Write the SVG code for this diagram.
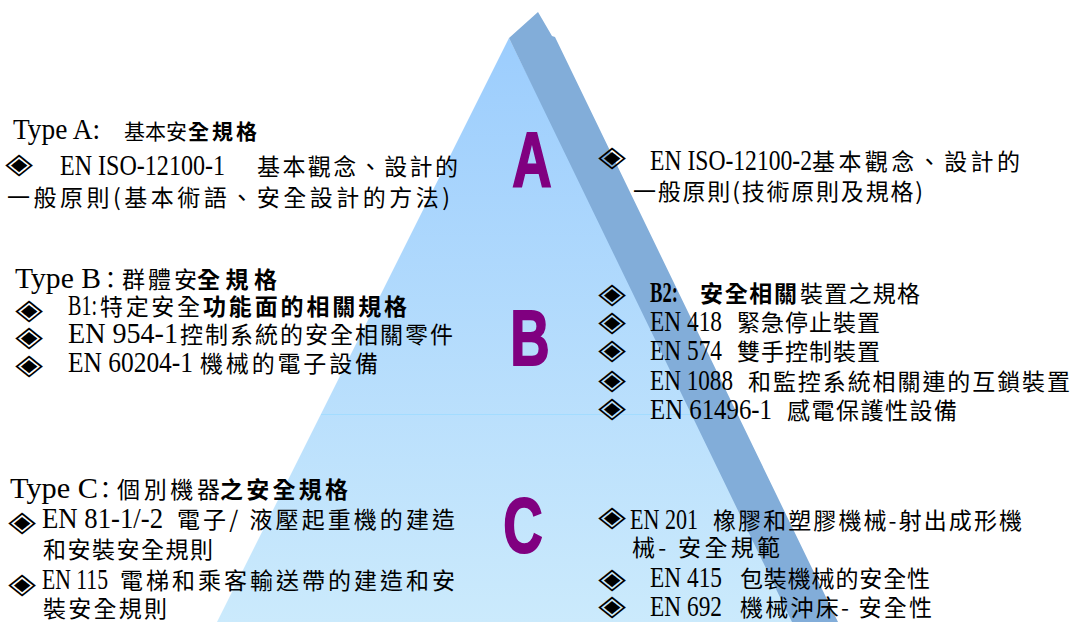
<svg xmlns="http://www.w3.org/2000/svg" width="1072" height="622" viewBox="0 0 1072 622">
<defs>
<linearGradient id="gFace" x1="0" y1="38" x2="0" y2="622" gradientUnits="userSpaceOnUse">
<stop offset="0" stop-color="#9ccdfd"/>
<stop offset="1" stop-color="#cbeafc"/>
</linearGradient>
<style>
.lat{font-family:"Liberation Serif","Noto Sans CJK TC",serif;font-size:29px;fill:#000}
.cjk{font-family:"Noto Sans CJK TC","Noto Sans CJK SC",sans-serif;font-size:23px;fill:#000}
.t{font-size:21px}
.b{font-weight:bold}
.bul{font-family:"Noto Sans CJK KR","Noto Sans CJK TC","DejaVu Sans",sans-serif;font-size:36px;text-anchor:middle;dominant-baseline:central;fill:#000}
.big{font-family:"Liberation Sans",sans-serif;font-weight:bold;font-size:78px;fill:#800080;stroke:#800080;stroke-width:2;text-anchor:middle}
</style>
</defs>
<rect width="1072" height="622" fill="#fff"/>
<g id="pyramid">
<polygon points="509,38 217,622 800,622" fill="url(#gFace)"/>
<line x1="321" y1="414.5" x2="700" y2="414.5" stroke="#a3dcff" stroke-width="1"/>
<polygon points="509,38 538,12 552,36 555,37 838,622 792,622" fill="#82add9"/>
</g>
<g id="letters">
<text class="big" transform="translate(532,187) scale(0.7,1)">A</text>
<text class="big" transform="translate(530,365) scale(0.7,1)">B</text>
<text class="big" transform="translate(523,552) scale(0.7,1)">C</text>
</g>
<g id="typeA-left">
<text class="lat" x="13" y="139" textLength="87" lengthAdjust="spacingAndGlyphs">Type A:</text>
<text class="cjk t" x="124" y="139" textLength="63">基本安</text>
<text class="cjk t b" x="188" y="139" textLength="69">全規格</text>
<text class="bul" transform="translate(19,160) scale(1,0.8)">◈</text>
<text class="lat" x="60" y="175" textLength="165" lengthAdjust="spacingAndGlyphs">EN ISO-12100-1</text>
<text class="cjk" x="257" y="175" textLength="201">基本觀念、設計的</text>
<text class="cjk" x="7" y="206" textLength="443">一般原則(基本術語、安全設計的方法)</text>
</g>
<g id="typeA-right">
<text class="bul" transform="translate(612,153) scale(1,0.8)">◈</text>
<text class="lat" x="650" y="170" textLength="162" lengthAdjust="spacingAndGlyphs">EN ISO-12100-2</text>
<text class="cjk" x="812" y="170" textLength="208">基本觀念、設計的</text>
<text class="cjk" x="633" y="200" textLength="290">一般原則(技術原則及規格)</text>
</g>
<g id="typeB-left">
<text class="lat" x="15" y="288" textLength="86" lengthAdjust="spacingAndGlyphs">Type B</text>
<text class="cjk" x="99" y="288">：</text>
<text class="cjk" x="122" y="288" textLength="75">群體安</text>
<text class="cjk b" x="197" y="288" textLength="80">全規格</text>
<text class="bul" transform="translate(29,306) scale(1,0.8)">◈</text>
<text class="lat" x="68" y="315" textLength="29" lengthAdjust="spacingAndGlyphs">B1:</text>
<text class="cjk" x="100" y="315" textLength="100">特定安全</text>
<text class="cjk b" x="203" y="315" textLength="204">功能面的相關規格</text>
<text class="bul" transform="translate(29,333) scale(1,0.8)">◈</text>
<text class="lat" x="68" y="343" textLength="110" lengthAdjust="spacingAndGlyphs">EN 954-1</text>
<text class="cjk" x="180" y="343" textLength="273">控制系統的安全相關零件</text>
<text class="bul" transform="translate(29,361) scale(1,0.8)">◈</text>
<text class="lat" x="68" y="372" textLength="125" lengthAdjust="spacingAndGlyphs">EN 60204-1</text>
<text class="cjk" x="200" y="372" textLength="178">機械的電子設備</text>
</g>
<g id="typeB-right">
<text class="bul" transform="translate(612,290) scale(1,0.8)">◈</text>
<text class="lat b" x="650" y="302" textLength="28" lengthAdjust="spacingAndGlyphs">B2:</text>
<text class="cjk b" x="700" y="302" textLength="97">安全相關</text>
<text class="cjk" x="800" y="302" textLength="120">裝置之規格</text>
<text class="bul" transform="translate(612,318) scale(1,0.8)">◈</text>
<text class="lat" x="650" y="331" textLength="72" lengthAdjust="spacingAndGlyphs">EN 418</text>
<text class="cjk" x="737" y="331" textLength="143">緊急停止裝置</text>
<text class="bul" transform="translate(612,346) scale(1,0.8)">◈</text>
<text class="lat" x="650" y="360" textLength="72" lengthAdjust="spacingAndGlyphs">EN 574</text>
<text class="cjk" x="737" y="360" textLength="143">雙手控制裝置</text>
<text class="bul" transform="translate(612,376) scale(1,0.8)">◈</text>
<text class="lat" x="650" y="390" textLength="83" lengthAdjust="spacingAndGlyphs">EN 1088</text>
<text class="cjk" x="748" y="390" textLength="322">和監控系統相關連的互鎖裝置</text>
<text class="bul" transform="translate(612,404) scale(1,0.8)">◈</text>
<text class="lat" x="650" y="419" textLength="122" lengthAdjust="spacingAndGlyphs">EN 61496-1</text>
<text class="cjk" x="787" y="419" textLength="170">感電保護性設備</text>
</g>
<g id="typeC-left">
<text class="lat" x="10" y="498" textLength="88" lengthAdjust="spacingAndGlyphs">Type C</text>
<text class="cjk" x="94" y="498">：</text>
<text class="cjk" x="117" y="498" textLength="103">個別機器</text>
<text class="cjk b" x="220" y="498" textLength="128">之安全規格</text>
<text class="bul" transform="translate(22,518) scale(1,0.8)">◈</text>
<text class="lat" x="42" y="528" textLength="121" lengthAdjust="spacingAndGlyphs">EN 81-1/-2</text>
<text class="cjk" x="177" y="528" textLength="278">電子/ 液壓起重機的建造</text>
<text class="cjk" x="43" y="558" textLength="170">和安裝安全規則</text>
<text class="bul" transform="translate(22,580) scale(1,0.8)">◈</text>
<text class="lat" x="42" y="589" textLength="66" lengthAdjust="spacingAndGlyphs">EN 115</text>
<text class="cjk" x="120" y="589" textLength="335">電梯和乘客輸送帶的建造和安</text>
<text class="cjk" x="43" y="617" textLength="124">裝安全規則</text>
</g>
<g id="typeC-right">
<text class="bul" transform="translate(612,513) scale(1,0.8)">◈</text>
<text class="lat" x="630" y="529" textLength="68" lengthAdjust="spacingAndGlyphs">EN 201</text>
<text class="cjk" x="713" y="529" textLength="309">橡膠和塑膠機械-射出成形機</text>
<text class="cjk" x="632" y="556" textLength="148">械- 安全規範</text>
<text class="bul" transform="translate(612,575) scale(1,0.8)">◈</text>
<text class="lat" x="650" y="587" textLength="72" lengthAdjust="spacingAndGlyphs">EN 415</text>
<text class="cjk" x="740" y="587" textLength="190">包裝機械的安全性</text>
<text class="bul" transform="translate(612,602) scale(1,0.8)">◈</text>
<text class="lat" x="650" y="616" textLength="72" lengthAdjust="spacingAndGlyphs">EN 692</text>
<text class="cjk" x="740" y="616" textLength="192">機械沖床- 安全性</text>
</g>
</svg>
